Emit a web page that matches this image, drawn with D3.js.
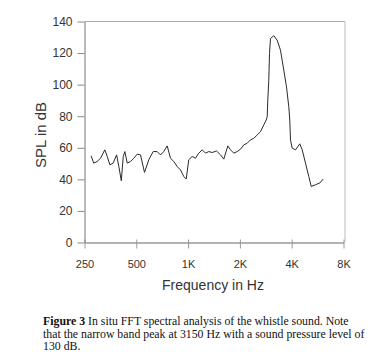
<!DOCTYPE html>
<html>
<head>
<meta charset="utf-8">
<script src="https://cdn.jsdelivr.net/npm/d3@7"></script>
<style>
html,body{margin:0;padding:0;background:#fff;}
svg{display:block;}
</style>
</head>
<body>
<svg id="chart" width="368" height="364"></svg>
<script>
// Frequency (Hz) and SPL (dB)
const freqHz = [273,283,296,310,328,339,351,367,384,396,409,420,429,443,463,484,506,529,558,591,627,661,691,722,756,790,826,864,903,944,975,1009,1056,1104,1154,1208,1262,1319,1381,1462,1543,1612,1701,1764,1843,1929,2016,2107,2205,2305,2409,2521,2635,2754,2844,2882,2905,2944,2972,3012,3150,3294,3443,3598,3731,3847,3899,3936,4027,4209,4458,4603,4811,5029,5193,5500,5826,6097];
const splDb = [54.9,50.3,51.3,53.4,58.7,54.5,49.2,50.3,55.5,48.1,39.1,54.5,57.6,50.3,51.3,53.4,56.0,55.5,44.4,52.4,57.6,57.6,55.5,57.6,61.2,53.4,51.3,48.1,46.0,41.8,40.2,52.4,54.5,53.4,56.6,58.7,56.6,57.6,57.0,58.0,55.5,52.8,61.2,58.7,56.6,57.6,59.1,61.8,62.9,65.0,66.0,68.1,70.2,74.5,77.6,79.7,90.2,102.8,119.7,129.2,131.0,128.1,121.8,109.2,98.6,86.0,77.6,65.0,59.8,58.7,62.5,58.7,50.3,41.8,35.5,36.6,37.7,40.2];
const xTickValues = [250,500,1000,2000,4000,8000];
const xTickLabels = ["250","500","1K","2K","4K","8K"];
const yTickValues = [0,20,40,60,80,100,120,140];
const xTitle = "Frequency in Hz";
const yTitle = "SPL in dB";
const captionBold = "Figure 3";
const captionLines = [
  " In situ FFT spectral analysis of the whistle sound. Note",
  "that the narrow band peak at 3150 Hz with a sound pressure level of",
  "130 dB."
];

const svg = d3.select("#chart");
const pLeft = 84.5, pRight = 343.5, pTop = 21.5, pBottom = 242.5;

const x = d3.scaleLog().base(2).domain([250, 8000]).range([pLeft, pRight]);
const y = d3.scaleLinear().domain([0, 140]).range([pBottom, pTop]);

// plot frame (top and right)
svg.append("line").attr("x1", pLeft).attr("x2", pRight + 1.5).attr("y1", pTop).attr("y2", pTop)
  .attr("stroke", "#aaa").attr("stroke-width", 1);
svg.append("line").attr("x1", pRight + 1.5).attr("x2", pRight + 1.5).attr("y1", pTop).attr("y2", pBottom)
  .attr("stroke", "#bbb").attr("stroke-width", 1);

// x axis
const xAxis = d3.axisBottom(x).tickValues(xTickValues)
  .tickFormat((d, i) => xTickLabels[i]).tickSizeInner(6).tickSizeOuter(0).tickPadding(12);
const gx = svg.append("g").attr("transform", `translate(0,${pBottom})`).call(xAxis);
gx.select(".domain").attr("stroke", "#666");
gx.selectAll(".tick line").attr("stroke", "#999").attr("y1", -3);
gx.selectAll(".tick text").attr("fill", "#333").attr("font-family", "Liberation Sans, Arial, sans-serif").attr("font-size", "11px");

// y axis
const yAxis = d3.axisLeft(y).tickValues(yTickValues).tickSizeInner(7).tickSizeOuter(0).tickPadding(5);
const gy = svg.append("g").attr("transform", `translate(${pLeft},0)`).call(yAxis);
gy.select(".domain").attr("stroke", "#777");
gy.selectAll(".tick line").attr("stroke", "#888");
gy.selectAll(".tick text").attr("fill", "#333").attr("font-family", "Liberation Sans, Arial, sans-serif").attr("font-size", "12px");

// line
const line = d3.line().x((d, i) => x(freqHz[i])).y(d => y(d));
svg.append("path").datum(splDb).attr("d", line)
  .attr("fill", "none").attr("stroke", "#2a2a2a").attr("stroke-width", 1);

// titles
svg.append("text").attr("x", 213).attr("y", 290).attr("text-anchor", "middle")
  .attr("font-family", "Liberation Sans, Arial, sans-serif").attr("font-size", "14px").attr("fill", "#333")
  .text(xTitle);
svg.append("text").attr("transform", "translate(46,135) rotate(-90)").attr("text-anchor", "middle")
  .attr("font-family", "Liberation Sans, Arial, sans-serif").attr("font-size", "15px").attr("fill", "#333")
  .text(yTitle);

// caption
const cap = svg.append("g").attr("font-family", "Liberation Serif, Times New Roman, serif").attr("font-size", "11.8px").attr("fill", "#111");
const t1 = cap.append("text").attr("x", 43).attr("y", 325);
t1.append("tspan").attr("font-weight", "bold").text(captionBold);
t1.append("tspan").text(captionLines[0]);
cap.append("text").attr("x", 43).attr("y", 337.5).text(captionLines[1]);
cap.append("text").attr("x", 43).attr("y", 350).text(captionLines[2]);
</script>
</body>
</html>
